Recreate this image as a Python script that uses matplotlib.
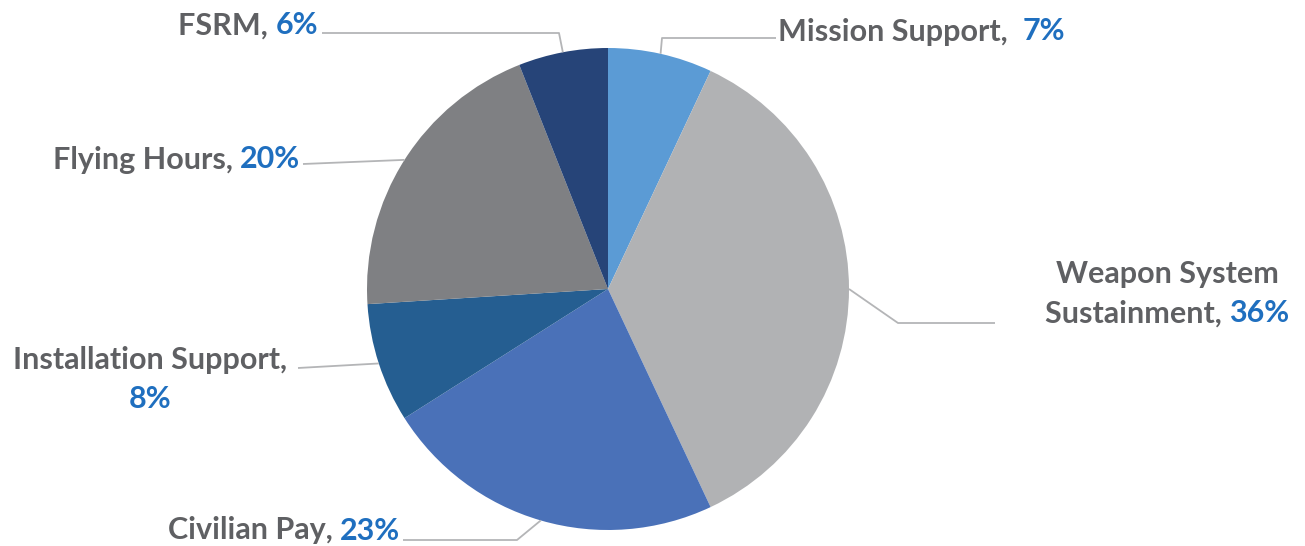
import numpy as np
import matplotlib.pyplot as plt
import matplotlib.font_manager as fm

# data
categories = ["Mission Support", "Weapon System Sustainment", "Civilian Pay",
              "Installation Support", "Flying Hours", "FSRM"]
shares = [7, 36, 23, 8, 20, 6]
colors = ["#5B9BD5", "#B1B2B4", "#4A71B8", "#255E91", "#7F8083", "#264478"]

GRAY = "#5F6063"
BLUE = "#1F6FBF"
LINE = "#B4B5B7"

names = {f.name for f in fm.fontManager.ttflist}
family = ["Lato", "DejaVu Sans"] if "Lato" in names else ["DejaVu Sans"]

W, H = 1305, 546
fig = plt.figure(figsize=(W / 100, H / 100), dpi=100)
ax = fig.add_axes([0, 0, 1, 1])

cx, cy, R = 608, H - 289, 241
wedges, _ = ax.pie(shares, colors=colors, startangle=90, counterclock=False,
                   center=(cx, cy), radius=R, frame=True,
                   wedgeprops=dict(linewidth=0))
ax.set_xlim(0, W)
ax.set_ylim(0, H)
ax.axis("off")

renderer = fig.canvas.get_renderer()


def width(s, fs):
    t = ax.text(0, 0, s, fontsize=fs, fontweight="bold", family=family)
    w = t.get_window_extent(renderer).width
    t.remove()
    return w


# pick the font size so that "Flying Hours, 20%" spans about 248 px
FS = 20 * 248 / width("Flying Hours, 20%", 20)


def rich(x, y, parts, ha):
    # draw coloured pieces of one line side by side
    ws = [width(s, FS) for s, c in parts]
    total = sum(ws)
    if ha == "left":
        x0 = x
    elif ha == "right":
        x0 = x - total
    else:
        x0 = x - total / 2
    for (s, c), w in zip(parts, ws):
        ax.text(x0, y, s, fontsize=FS, fontweight="bold", family=family,
                color=c, ha="left", va="center_baseline")
        x0 += w


def edge_point(w):
    mid = np.deg2rad((w.theta1 + w.theta2) / 2)
    return cx + R * np.cos(mid), cy + R * np.sin(mid)


# label layout (pixel positions, y measured from top)
labels = [
    [((778, 29), [("Mission Support,  ", GRAY), (f"{shares[0]}%", BLUE)], "left")],
    [((1167, 272), [("Weapon System", GRAY)], "center"),
     ((1167, 311), [("Sustainment, ", GRAY), (f"{shares[1]}%", BLUE)], "center")],
    [((168, 528), [("Civilian Pay, ", GRAY), (f"{shares[2]}%", BLUE)], "left")],
    [((150, 357), [("Installation Support,", GRAY)], "center"),
     ((150, 397), [(f"{shares[3]}%", BLUE)], "center")],
    [((300, 157), [("Flying Hours, ", GRAY), (f"{shares[4]}%", BLUE)], "right")],
    [((318, 23), [("FSRM, ", GRAY), (f"{shares[5]}%", BLUE)], "right")],
]
for lab in labels:
    for (x, y), parts, ha in lab:
        rich(x, H - y, parts, ha)

# leader lines: wedge edge -> elbow -> label
ends = [
    [(662, 38), (776, 38)],
    [(898, 323), (995, 323)],
    [(517, 540), (403, 540)],
    [(298, 368)],
    [(303, 164)],
    [(559, 33), (322, 33)],
]
for w, pts in zip(wedges, ends):
    x0, y0 = edge_point(w)
    xs = [x0] + [p[0] for p in pts]
    ys = [y0] + [H - p[1] for p in pts]
    ax.plot(xs, ys, color=LINE, lw=1.3, solid_capstyle="butt")

fig.savefig("out.png", dpi=100)
